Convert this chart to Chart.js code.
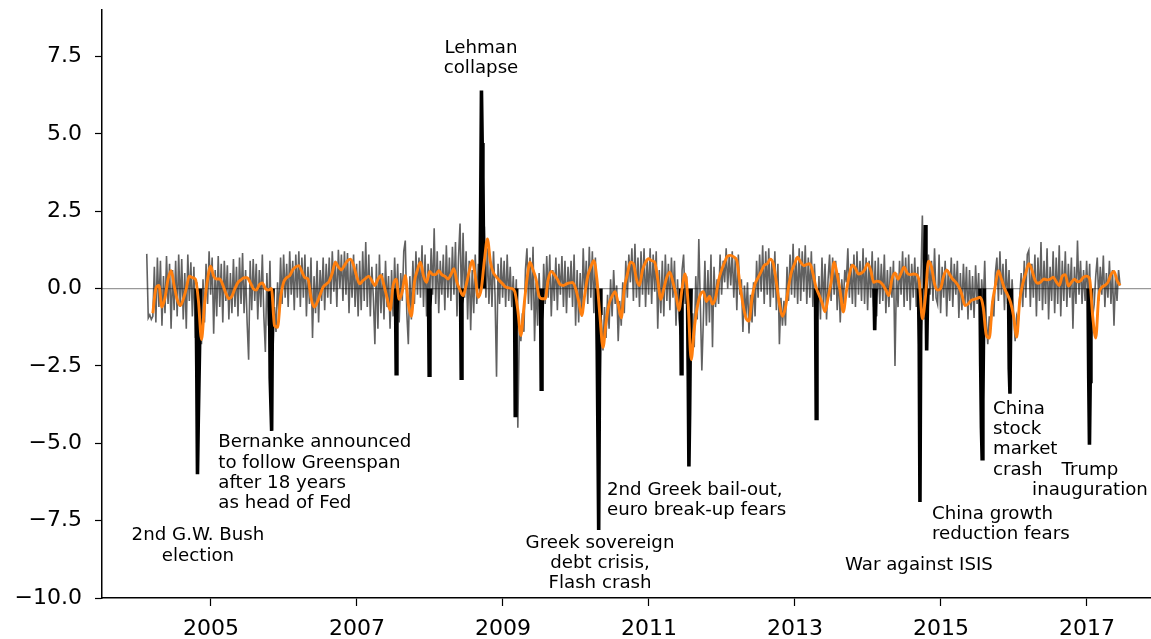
<!DOCTYPE html>
<html>
<head>
<meta charset="utf-8">
<title>News sentiment index with event shocks</title>
<script src="https://cdn.jsdelivr.net/npm/chart.js@4.4.1/dist/chart.umd.min.js"></script>
<style>
  html, body { margin: 0; padding: 0; background: #fff; }
  canvas { display: block; }
</style>
</head>
<body>
<canvas id="c" width="1151" height="639"></canvas>
<script>
// Raw index: observations every 1/48 year from early 2004
const rawStart = 2004.12;
const rawStep = 1 / 48;
const rawIndex = [
  1.12, -0.95, -0.85, -1.0, -0.9, 0.7, -1.1, 1.0, -0.6, 0.9, -1.2, 0.4, -0.8, 1.05, -0.5, 0.8, -1.3, 0.6, -0.7, 0.9,
  -0.9, 1.1, -0.6, 0.95, -1.0, 0.5, -1.3, 1.1, -0.4, 0.85, -0.9, 0.7, -1.6, 0.2, -2.2, -0.9, -1.8, 0.3, -1.1, 0.8,
  -0.5, 1.2, -0.2, 1.0, -1.46, 0.6, -0.9, 1.05, -0.6, 0.8, -1.1, 0.9, -0.4, 0.75, -1.0, 0.5, -0.8, 0.95, -0.6, 0.7,
  -0.9, 1.0, -0.5, 1.15, -0.8, 0.6, -1.1, -2.3, 0.9, -0.7, 0.95, -0.4, 0.8, -1.0, 0.6, -0.6, 1.1, -0.9, -2.05, 0.5,
  -1.2, 0.9, -1.5, -2.0, -0.6, -1.4, 0.2, -0.9, 1.0, -0.5, 1.1, -0.3, 0.8, -0.6, 1.2, -0.2, 0.9, -0.7, 1.1, -0.3,
  1.2, -0.6, 1.0, -0.3, 1.1, -0.9, 0.7, -0.5, 1.0, -1.6, 0.4, -0.8, 0.9, -1.1, 0.6, -0.4, 1.0, -0.7, 0.8, -0.3,
  1.0, -0.5, 1.2, -0.1, 0.9, -0.6, 1.25, 0.0, 1.1, -0.4, 1.2, -0.2, 1.15, -0.8, 0.9, -0.3, 1.1, -0.6, 0.8, -0.9,
  0.9, -0.7, 1.2, -0.4, 1.5, -0.6, 1.1, -0.9, 0.7, -0.3, -1.8, 0.8, -1.3, 1.1, -0.8, 0.5, -1.0, 0.9, -0.6, 0.4,
  -1.3, 0.6, -0.9, 1.0, -0.6, 0.8, -1.1, 0.5, -0.4, 1.2, 1.55, -0.8, -1.8, 0.4, -1.0, 0.9, -0.5, 1.2, -0.2, 1.0,
  -0.3, 1.4, -0.6, 1.1, -0.9, 0.8, -0.4, 1.3, -0.2, 1.95, -0.5, 1.2, -0.8, 0.9, -0.2, 1.1, -0.7, 1.4, -0.3, 1.0,
  -0.4, 1.35, -0.2, 1.5, -0.9, 1.0, 2.1, -0.6, 1.8, -0.3, 1.2, -1.0, 0.9, -1.35, 0.6, -0.8, 1.1, -0.5, 0.8, -0.2,
  0.5, 1.4, 2.0, -0.3, 1.3, -0.5, 0.9, -0.6, 1.2, -0.2, -2.85, 0.8, -0.5, 1.0, -0.3, 0.9, -0.6, 1.1, -0.4, 0.7,
  -0.6, 0.4, -1.0, 0.3, -4.5, -1.2, -1.7, -0.8, -1.4, 0.6, 1.3, -0.5, 1.0, -0.7, 1.35, -1.7, 0.2, -1.2, 0.5, -0.9,
  -1.2, 0.8, -0.5, 1.05, -0.3, 1.1, -0.9, 0.6, -0.4, 1.0, -0.7, 0.8, -0.2, 1.05, -0.6, 0.9, -0.8, 0.7, -0.3, 0.9,
  -0.6, 1.1, -1.2, 0.6, -1.1, 0.5, -0.9, 1.3, -0.2, 0.9, -0.5, 1.35, -0.3, 1.2, -0.8, 1.0, -0.5, -1.2, -2.0, -1.0,
  -2.0, -0.6, -1.6, -0.2, -1.3, 0.3, -0.9, 0.6, -0.5, 0.1, -1.7, -0.4, -1.2, 0.2, -0.8, 0.9, -0.3, 1.1, 0.2, 1.3,
  -0.4, 1.45, -0.3, 1.0, -0.6, 1.2, -0.2, 1.3, -0.6, 0.9, -0.2, 1.3, -0.5, 1.1, -0.1, 1.2, -1.3, 0.6, -0.8, 0.9,
  -0.9, 1.1, -0.4, 0.8, -0.7, 1.0, -0.3, 0.9, -1.2, 0.3, -1.0, -1.5, 0.6, 1.1, -0.5, 0.4, -2.2, -1.2, -1.9, -0.8,
  -1.9, 0.4, -1.0, 1.6, -0.5, -2.65, -1.0, 0.9, -1.2, 0.6, -1.1, 1.1, -1.9, 0.7, -0.6, 0.3, -0.5, 1.1, -0.2, 0.9,
  0.2, 1.3, 0.0, 1.1, 0.1, 1.2, -0.3, 1.0, -0.7, 1.1, -0.2, 0.3, -1.4, 0.1, -0.9, 0.2, -1.45, -0.2, -1.1, 0.2,
  -0.9, 0.9, -0.3, 1.1, -0.1, 1.4, -0.5, 1.2, -0.2, 1.3, -0.6, 0.9, -0.3, 1.2, -0.7, 0.8, -1.8, -0.3, -1.2, -0.4,
  -1.2, 0.7, -0.4, 1.1, -0.2, 1.45, -0.3, 1.0, -0.5, 1.3, -0.4, 1.2, -0.1, 1.4, -0.5, 1.0, -0.3, 1.2, -0.6, 0.8,
  -0.3, -0.9, 0.4, -1.0, 1.0, -0.6, 0.8, -1.0, 0.3, 1.1, -0.4, 1.0, -0.2, 0.9, -0.7, 0.5, -1.1, 0.3, -0.5, 0.6,
  0.2, 1.3, -0.3, 0.8, -0.5, 1.1, -0.6, 1.2, -0.2, 0.9, -0.4, 1.3, -0.5, 1.0, -0.7, 0.9, -0.3, 1.2, -0.6, 0.9,
  -0.9, 1.0, -0.5, 0.8, -0.4, 1.1, -0.8, 0.6, -0.6, 0.7, -0.3, 0.9, -2.5, 0.5, -0.6, 0.9, -0.2, 1.2, -0.6, 1.0,
  -0.4, 1.1, -0.7, 0.8, -0.3, 1.0, -0.6, 0.7, -1.3, 0.2, 2.36, -1.0, 0.5, -0.4, 1.1, -0.2, 0.9, -0.4, 1.3, -0.3,
  -0.5, 1.1, -0.8, 0.7, -0.3, 0.9, -0.9, 0.6, -0.4, 1.0, -0.6, 0.8, -0.2, 0.9, -0.95, 0.5, -0.7, 0.8, -0.5, 0.7,
  -1.0, 0.6, -0.7, 0.4, -0.95, 0.75, -0.5, 0.5, -1.05, 0.3, -0.6, 0.9, -1.0, -1.8, -0.9, -1.3, -0.4, -0.9, 0.5, 1.0,
  -0.4, 1.2, -0.2, 0.8, -0.7, 0.95, -0.5, 0.6, -1.25, 0.3, -0.8, -1.7, -0.9, -1.1, -0.3, 0.5, -0.6, 0.9, -0.3, 1.1,
  1.23, -0.6, 0.8, -0.3, 1.1, -0.9, 1.0, -0.4, 1.5, -0.7, 0.9, -0.5, 1.3, -1.0, 0.7, -0.4, 1.2, -0.8, 1.0, -0.5,
  1.4, -0.9, 0.9, -0.4, 1.2, -0.6, 0.8, -0.3, 1.0, -1.3, 0.7, -0.5, 1.55, -0.2, 0.9, -0.5, 0.6, -0.4, 0.9, -0.3,
  0.8, -1.6, -0.9, -0.5, 0.4, 1.0, -0.4, 0.7, -0.2, 1.07, -0.6, 0.5, -0.3, 0.9, -0.5, 0.6, -1.2, 0.4, -0.4, 0.6,
  0.1
];

// Smoothed index (orange): observations every 1/24 year from the same start
const smoothStart = 2004.12;
const smoothStep = 1 / 24;
const smoothIndex = [
  null, null, -0.8, 0.0, 0.1, -0.6, -0.3, 0.3, 0.58, 0.1,
  -0.35, -0.55, -0.35, 0.0, 0.4, 0.35, 0.3, -0.4, -1.65, -0.5,
  0.3, 0.72, 0.4, 0.31, 0.31, 0.12, -0.15, -0.33, -0.25, 0.0,
  0.2, 0.28, 0.35, 0.35, 0.2, 0.0, -0.05, 0.12, 0.18, 0.0,
  -0.05, 0.0, -1.2, -1.25, -0.3, 0.2, 0.35, 0.42, 0.6, 0.7,
  0.74, 0.55, 0.35, 0.31, -0.3, -0.6, -0.45, -0.2, 0.05, 0.14,
  0.24, 0.5, 0.85, 0.7, 0.6, 0.75, 0.9, 0.95, 0.75, 0.4,
  0.15, 0.25, 0.33, 0.4, 0.25, 0.1, 0.3, 0.42, 0.1, -0.3,
  -0.7, 0.1, 0.3, -0.35, -0.1, 0.42, -0.5, -0.9, 0.2, 0.6,
  0.85, 0.4, 0.2, 0.55, 0.45, 0.45, 0.58, 0.45, 0.4, 0.31,
  0.45, 0.64, 0.2, -0.05, -0.23, 0.1, 0.55, 0.9, 0.4, -0.28,
  0.0, 0.9, 1.6, 0.85, 0.5, 0.37, 0.25, 0.15, 0.05, 0.02,
  0.0, -0.1, -0.7, -1.52, -0.6, 0.3, 0.85, 0.6, 0.3, -0.25,
  -0.33, -0.33, 0.3, 0.55, 0.45, 0.3, 0.12, 0.1, 0.15, 0.18,
  0.2, 0.0, -0.4, -0.87, -0.2, 0.4, 0.7, 0.9, 0.3, -0.9,
  -1.9, -1.1, -0.5, -0.25, -0.1, -0.5, -0.95, 0.0, 0.45, 0.85,
  0.8, 0.3, 0.1, 0.6, 0.85, 0.96, 0.9, 0.85, 0.3, -0.35,
  0.0, 0.37, 0.53, 0.2, -0.2, -0.7, 0.0, 0.47, -0.5, -2.3,
  -1.3, -0.6, -0.2, -0.1, -0.42, -0.25, -0.5, -0.3, 0.26, 0.6,
  0.85, 1.05, 1.07, 1.02, 0.9, 0.15, -0.5, -0.95, -1.05, -0.3,
  0.15, 0.35, 0.55, 0.75, 0.8, 0.95, 0.8, 0.2, -0.5, -0.9,
  -0.6, 0.05, 0.55, 0.8, 1.01, 0.85, 0.74, 0.78, 0.8, 0.5,
  0.05, -0.2, -0.45, -0.75, -0.3, 0.2, 0.85, 0.45, -0.1, -0.76,
  -0.1, 0.45, 0.75, 0.65, 0.47, 0.5, 0.6, 0.8, 0.6, 0.2,
  0.24, 0.22, 0.12, -0.05, -0.23, 0.3, 0.5, 0.3, 0.5, 0.69,
  0.5, 0.45, 0.47, 0.45, 0.2, -0.98, -0.28, 0.88, 0.7, 0.15,
  -0.05, 0.0, 0.4, 0.6, 0.45, 0.3, 0.2, 0.05, -0.2, -0.55,
  -0.5, -0.39, -0.35, -0.32, -0.28, -0.6, -1.5, -1.6, -0.5, 0.1,
  0.58, 0.3, 0.0, -0.2, -0.45, -0.9, -1.57, -0.4, 0.15, 0.5,
  0.8, 0.6, 0.28, 0.17, 0.22, 0.31, 0.28, 0.3, 0.37, 0.22,
  0.1, 0.4, 0.45, 0.08, 0.2, 0.3, 0.22, 0.25, 0.37, 0.4,
  0.3, -0.9, -1.6, -0.22, 0.04, 0.1, 0.2, 0.45, 0.55, 0.26, 0.1
];

// Event shocks (black): first day of each window and its daily path
const shockStart = [
  2004.795, 2005.801, 2007.527, 2007.979, 2008.418, 2008.685,
  2009.158, 2009.514, 2010.281, 2011.432, 2011.527, 2013.281,
  2014.082, 2014.692, 2014.774, 2015.534, 2015.925, 2017.014
];
const shockStep = 1 / 100;
const shockPaths = [
  [0, -2.5, -6.0, -4.4, -4.4, -1.7, 0],
  [0, -2.9, -2.9, -4.6, -1.0, 0],
  [0, -2.75, -0.8, 0],
  [0, -2.8, -0.6, 0],
  [0, -2.9, -0.5, 0],
  [0, 2.75, 6.4, 4.7, 3.6, 0.8, 0],
  [0, -4.1, -1.4, 0],
  [0, -3.25, -1.0, 0],
  [0, -2.0, -4.8, -7.8, -3.0, -0.8, 0],
  [0, -2.75, -0.5, 0],
  [0, -2.6, -5.75, -4.0, -1.5, 0],
  [0, -4.2, -0.5, 0],
  [0, -1.35, -0.3, 0],
  [0, -1.8, -6.9, -1.5, 0],
  [0, 2.05, 0.5, -2.0, -0.6, 0],
  [0, -2.5, -4.5, -5.5, -3.6, -1.2, 0],
  [0, -2.6, -3.4, -1.0, 0],
  [0, -2.9, -5.05, -3.0, -1.0, 0]
];

// Axis ticks
const yearTicks = [2005, 2007, 2009, 2011, 2013, 2015, 2017];
const levelTicks = [-10, -7.5, -5, -2.5, 0, 2.5, 5, 7.5];

// Event notes
const noteText = [
  "2nd G.W. Bush\nelection",
  "Bernanke announced\nto follow Greenspan\nafter 18 years\nas head of Fed",
  "Lehman\ncollapse",
  "Greek sovereign\ndebt crisis,\nFlash crash",
  "2nd Greek bail-out,\neuro break-up fears",
  "War against ISIS",
  "China growth\nreduction fears",
  "China\nstock\nmarket\ncrash",
  "Trump\ninauguration"
];
const noteYear = [2004.822, 2005.100, 2008.699, 2010.329, 2010.425, 2013.685, 2014.877, 2015.712, 2017.041];
const noteLevel = [-8.14, -5.13, 7.61, -8.37, -6.67, -9.10, -7.45, -4.05, -6.03];
const noteAlign = ['center', 'left', 'center', 'center', 'left', 'left', 'left', 'left', 'center'];

// Build {x, y} point lists for the line datasets
const rawPoints = rawIndex.map((v, i) => ({ x: rawStart + i * rawStep, y: v }));
const smoothPoints = smoothIndex.map((v, i) => ({ x: smoothStart + i * smoothStep, y: v }));
const shockPoints = [];
shockPaths.forEach((path, k) => {
  path.forEach((v, j) => shockPoints.push({ x: shockStart[k] + j * shockStep, y: v }));
  shockPoints.push({ x: shockStart[k] + path.length * shockStep, y: null });
});

const X_MIN = 2003.507, X_MAX = 2017.877;
const FONT = '"DejaVu Sans", sans-serif';

const notesPlugin = {
  id: 'eventNotes',
  afterDatasetsDraw(chart) {
    const { ctx, scales } = chart;
    ctx.save();
    ctx.font = '18.2px ' + FONT;
    ctx.fillStyle = '#000';
    ctx.textBaseline = 'alphabetic';
    noteText.forEach((t, k) => {
      const px = scales.x.getPixelForValue(noteYear[k]);
      const py = scales.y.getPixelForValue(noteLevel[k]);
      ctx.textAlign = noteAlign[k];
      t.split('\n').forEach((line, j) => ctx.fillText(line, px, py + j * 20.3));
    });
    ctx.restore();
  }
};

// Axes keep a fixed footprint so the plot area spans x 102..1151, y 10..598
function fixX(s) { s.height = 41; s.paddingLeft = 0; s.paddingRight = 0; }
function fixY(s) { s.width = 102; s.paddingTop = 0; s.paddingBottom = 0; }

new Chart(document.getElementById('c'), {
  type: 'line',
  data: {
    datasets: [
      { data: smoothPoints, borderColor: '#ff7f0e', borderWidth: 2.9, order: 0, cubicInterpolationMode: 'monotone', borderJoinStyle: 'round' },
      { data: shockPoints, borderColor: '#000', borderWidth: 3.6, order: 1, spanGaps: false },
      { data: [{ x: X_MIN, y: 0 }, { x: X_MAX, y: 0 }], borderColor: 'rgba(0,0,0,0.4)', borderWidth: 1.2, order: 2 },
      { data: rawPoints, borderColor: '#616161', borderWidth: 1.6, order: 3 }
    ]
  },
  options: {
    responsive: false,
    animation: false,
    devicePixelRatio: 1,
    elements: {
      point: { radius: 0, hoverRadius: 0 },
      line: { tension: 0, fill: false, borderJoinStyle: 'miter', borderCapStyle: 'butt' }
    },
    layout: { padding: { top: 10, right: 0, left: 0, bottom: 0 } },
    plugins: { legend: { display: false }, tooltip: { enabled: false } },
    scales: {
      x: {
        type: 'linear',
        min: X_MIN,
        max: X_MAX,
        afterBuildTicks: s => { s.ticks = yearTicks.map(v => ({ value: v })); },
        afterFit: fixX,
        border: { display: true, color: '#000', width: 1.5 },
        grid: { display: true, drawOnChartArea: false, drawTicks: true, tickLength: 8, tickColor: '#000', tickWidth: 1.2 },
        ticks: {
          color: '#000', font: { family: FONT, size: 22 }, padding: 10,
          maxRotation: 0, autoSkip: false,
          callback: v => String(v)
        }
      },
      y: {
        type: 'linear',
        min: -10,
        max: 9,
        afterBuildTicks: s => { s.ticks = levelTicks.map(v => ({ value: v })); },
        afterFit: fixY,
        border: { display: true, color: '#000', width: 1.5 },
        grid: { display: true, drawOnChartArea: false, drawTicks: true, tickLength: 7, tickColor: '#000', tickWidth: 1.2 },
        ticks: {
          color: '#000', font: { family: FONT, size: 22 }, padding: 13,
          autoSkip: false,
          callback: v => (v < 0 ? '\u2212' : '') + Math.abs(v).toFixed(1)
        }
      }
    }
  },
  plugins: [notesPlugin]
});
</script>
</body>
</html>
